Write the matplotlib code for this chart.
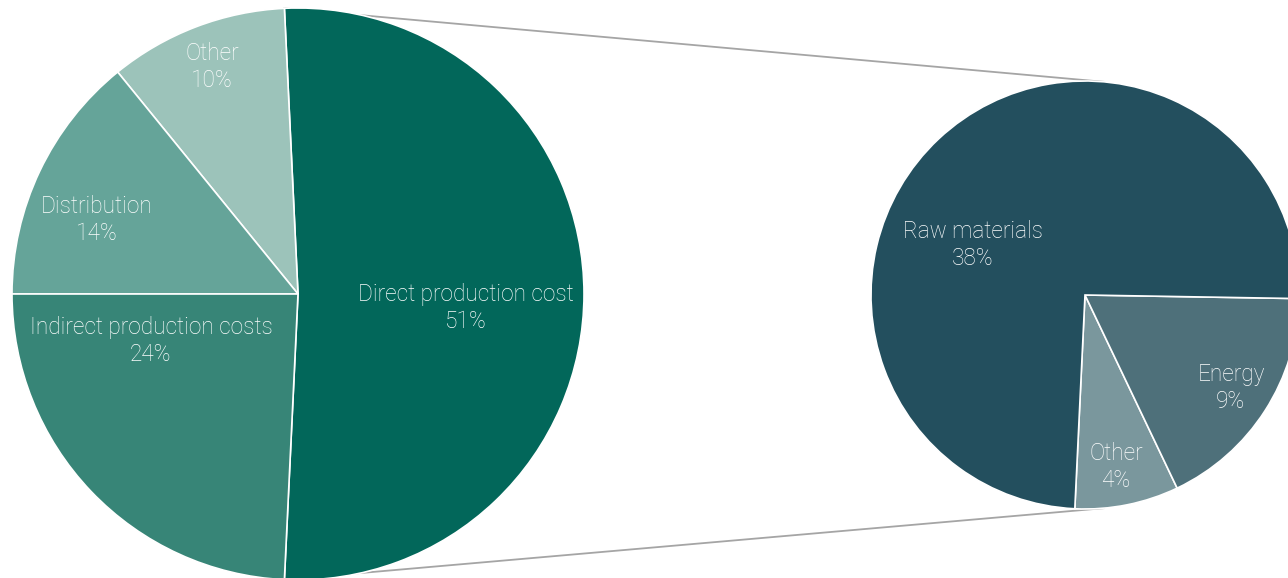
import numpy as np
import matplotlib
matplotlib.use("Agg")
import matplotlib.pyplot as plt

# ---- data ----
main_labels = ["Direct production cost", "Other", "Distribution", "Indirect production costs"]
main_values = [51, 10, 14, 24]
sub_labels = ["Other", "Energy", "Raw materials"]
sub_values = [4, 9, 38]

main_colors = ["#02675a", "#9cc3ba", "#65a499", "#378577"]
sub_colors = ["#7a979d", "#4e707a", "#234f5e"]

# ---- layout (pixel units) ----
W, H = 1288, 578
main_center = (298, H - 294)
main_r = 286
sub_center = (1085, H - 295)
sub_r = 214
# label offsets as fractions of radius (dx, dy)
main_label_pos = [(0.587, -0.049), (-0.30, 0.794), (-0.703, 0.258), (-0.514, -0.164)]
sub_label_pos = [(0.145, -0.804), (0.682, -0.435), (-0.523, 0.234)]
sub_attach_angle = 85.0

plt.rcParams['font.family'] = ['Roboto', 'DejaVu Sans']

fig = plt.figure(figsize=(W / 100, H / 100), dpi=100)
ax = fig.add_axes([0, 0, 1, 1])

start = -360 * main_values[0] / sum(main_values) / 2
wedges, _ = ax.pie(main_values, colors=main_colors, startangle=start, counterclock=True,
                   center=main_center, radius=main_r,
                   wedgeprops=dict(edgecolor="white", linewidth=1.2))
sub_wedges, _ = ax.pie(sub_values, colors=sub_colors, startangle=start, counterclock=True,
                       center=sub_center, radius=sub_r,
                       wedgeprops=dict(edgecolor="white", linewidth=1.2))

txt_kw = dict(color="white", fontsize=16.3, fontweight="light", ha="center", va="center",
              linespacing=1.2)
for lab, val, (dx, dy) in zip(main_labels, main_values, main_label_pos):
    ax.text(main_center[0] + dx * main_r, main_center[1] + dy * main_r,
            f"{lab}\n{val}%", **txt_kw)
for lab, val, (dx, dy) in zip(sub_labels, sub_values, sub_label_pos):
    ax.text(sub_center[0] + dx * sub_r, sub_center[1] + dy * sub_r,
            f"{lab}\n{val}%", **txt_kw)

# connector lines
t1 = np.deg2rad(wedges[0].theta2)
t2 = np.deg2rad(wedges[0].theta1)
for tl, ts in [(t1, np.deg2rad(sub_attach_angle)), (t2, np.deg2rad(-sub_attach_angle))]:
    x0 = main_center[0] + main_r * np.cos(tl)
    y0 = main_center[1] + main_r * np.sin(tl)
    x1 = sub_center[0] + sub_r * np.cos(ts)
    y1 = sub_center[1] + sub_r * np.sin(ts)
    ax.plot([x0, x1], [y0, y1], color="#a5a5a5", linewidth=1.3, zorder=0)

ax.set_xlim(0, W)
ax.set_ylim(0, H)
ax.set_aspect("equal")
ax.axis("off")
fig.savefig("out.png", dpi=100)
